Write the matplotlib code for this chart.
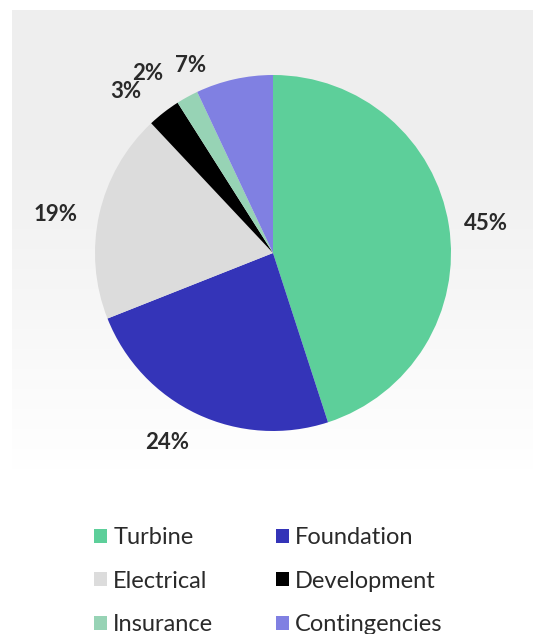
import numpy as np
import matplotlib
matplotlib.use('Agg')
import matplotlib.pyplot as plt
from matplotlib.patches import Patch

categories = ['Turbine', 'Foundation', 'Electrical', 'Development', 'Insurance', 'Contingencies']
shares     = [45, 24, 19, 3, 2, 7]
colors     = ['#5dcf9a', '#3434b8', '#dcdcdc', '#000000', '#97d3b5', '#8080e2']
pct_labels = ['45%', '24%', '19%', '3%', '2%', '7%']

plt.rcParams['font.family'] = ['Lato', 'DejaVu Sans']

W, H = 533, 634
fig = plt.figure(figsize=(W / 100, H / 100), dpi=100)
fig.patch.set_facecolor('white')

# faded grey backdrop behind the pie
bg = fig.add_axes([12 / W, 1 - 470 / H, 1 - 12 / W, 460 / H], zorder=-1)
t = np.linspace(0, 1, 256)[:, None]
grad = 0.937 + (1 - 0.937) * np.clip((t - 0.3) / 0.7, 0, 1)
grad = grad * np.ones((1, 4))
bg.imshow(np.dstack([grad, grad, grad]), aspect='auto', extent=[0, 1, 0, 1])
bg.axis('off')

cx, cy, R = 273, 253, 178
ax = fig.add_axes([(cx - R) / W, 1 - (cy + R) / H, 2 * R / W, 2 * R / H])
wedges, _ = ax.pie(shares, colors=colors, startangle=90, counterclock=False,
                   radius=1.0, wedgeprops=dict(linewidth=0))
ax.set_xlim(-1, 1)
ax.set_ylim(-1, 1)
ax.set_aspect('equal')
ax.axis('off')

# label positions: radial distance and small angular nudge per slice
dist  = [1.21, 1.22, 1.24, 1.23, 1.23, 1.15]
shift = [-1, -4, 2.5, 4.5, 6, 11]
for w, lab, d, s in zip(wedges, pct_labels, dist, shift):
    ang = np.deg2rad((w.theta1 + w.theta2) / 2 + s)
    ax.text(d * np.cos(ang), d * np.sin(ang), lab, ha='center', va='center',
            fontsize=16, fontweight='bold', color='#2a2a2a')

handles = [Patch(facecolor=c, edgecolor='none') for c in colors]
order = [0, 2, 4, 1, 3, 5]
fig.legend([handles[i] for i in order], [categories[i] for i in order],
           ncol=2, loc='upper left', bbox_to_anchor=(73 / W, 1 - 506 / H),
           frameon=False, fontsize=17, handlelength=0.55, handleheight=0.55,
           handletextpad=0.25, columnspacing=2.65, labelspacing=0.95,
           labelcolor='#2a2a2a')

fig.savefig('out.png', dpi=100)
